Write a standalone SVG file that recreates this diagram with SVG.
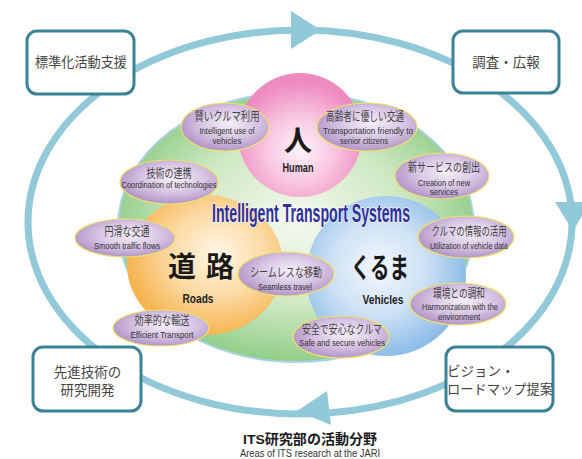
<svg xmlns="http://www.w3.org/2000/svg" width="582" height="459" viewBox="0 0 582 459">
<defs>
<radialGradient id="gGreen" cx="0.5" cy="0.48" r="0.55">
<stop offset="0" stop-color="#f4f9f0"/><stop offset="0.55" stop-color="#d0e9c4"/><stop offset="1" stop-color="#88ca80"/>
</radialGradient>
<radialGradient id="gPink" cx="0.5" cy="0.62" r="0.55">
<stop offset="0" stop-color="#fdf3f8"/><stop offset="0.5" stop-color="#f8c6df"/><stop offset="1" stop-color="#ed8ac0"/>
</radialGradient>
<radialGradient id="gOrange" cx="0.58" cy="0.42" r="0.58">
<stop offset="0" stop-color="#fff6e6"/><stop offset="0.5" stop-color="#fcdca8"/><stop offset="1" stop-color="#f5b450"/>
</radialGradient>
<radialGradient id="gBlue" cx="0.45" cy="0.45" r="0.58">
<stop offset="0" stop-color="#f3f7fc"/><stop offset="0.5" stop-color="#cfe2f5"/><stop offset="1" stop-color="#86b9e6"/>
</radialGradient>
<radialGradient id="gPurple" cx="0.55" cy="0.42" r="0.62">
<stop offset="0" stop-color="#f5eff8"/><stop offset="0.5" stop-color="#d9c6e4"/><stop offset="1" stop-color="#ac8fc3"/>
</radialGradient>
<style>
.ring{fill:none;stroke:#92c9d9;stroke-width:7}
.arrow{fill:#92c9d9}
.box{fill:#ffffff;stroke:#3c8297;stroke-width:3}
.bt{font-family:"Noto Sans CJK JP",sans-serif;font-size:13.5px;fill:#444444}
.pe{fill:url(#gPurple);stroke:#f1e06a;stroke-width:1.2}
.jp{font-family:"Noto Sans CJK JP",sans-serif;font-size:12.5px;fill:#444444;text-anchor:middle}
.en{font-family:"Liberation Sans",Arial,sans-serif;font-size:9.5px;fill:#333333;text-anchor:middle}
.big{font-family:"Noto Sans CJK JP",sans-serif;font-size:28px;font-weight:bold;fill:#1a1a1a;text-anchor:middle}
.lab{font-family:"Liberation Sans",Arial,sans-serif;font-size:13px;font-weight:bold;fill:#222222;text-anchor:middle}
</style>
</defs>
<rect width="582" height="459" fill="#ffffff"/>

<g id="connectors">
<ellipse class="ring" cx="300" cy="222" rx="272" ry="192"/>
<polygon class="arrow" points="291,11 321,30 291,49"/>
<polygon class="arrow" points="555,202 573,231 590,202"/>
<polygon class="arrow" points="327,391 297,411 331,425"/>
</g>

<g id="its-area">
<ellipse cx="296" cy="227" rx="178" ry="135" fill="url(#gGreen)" stroke="#a9d2e4" stroke-width="2"/>
</g>

<g id="human">
<circle cx="300" cy="135" r="62" fill="url(#gPink)"/>
<text class="big" x="298" y="151" font-weight="normal">人</text>
<text class="lab" x="298" y="172" font-size="12" textLength="31" lengthAdjust="spacingAndGlyphs">Human</text>
</g>

<g id="roads">
<ellipse cx="205" cy="265" rx="78" ry="70" fill="url(#gOrange)"/>
<text class="big" x="182" y="277">道</text>
<text class="big" x="220" y="277">路</text>
<text class="lab" x="198" y="303" textLength="31" lengthAdjust="spacingAndGlyphs">Roads</text>
</g>

<g id="vehicles">
<circle cx="386" cy="276" r="80" fill="url(#gBlue)"/>
<text class="big" x="380" y="278" font-size="26" font-weight="normal" textLength="58" lengthAdjust="spacingAndGlyphs">くるま</text>
<text class="lab" x="383" y="304" textLength="41" lengthAdjust="spacingAndGlyphs">Vehicles</text>
</g>

<g id="its-title">
<text x="311" y="222" font-family="Liberation Sans,Arial,sans-serif" font-size="25" font-weight="bold" fill="#30309a" stroke="#ffffff" stroke-width="1.6" paint-order="stroke" stroke-opacity="0.8" text-anchor="middle" textLength="198" lengthAdjust="spacingAndGlyphs">Intelligent Transport Systems</text>
</g>

<g id="smart-use">
<ellipse class="pe" cx="225" cy="127" rx="44" ry="24"/>
<text class="jp" x="227" y="121" textLength="65" lengthAdjust="spacingAndGlyphs">賢いクルマ利用</text>
<text class="en" x="227" y="134" textLength="55" lengthAdjust="spacingAndGlyphs">Intelligent use of</text>
<text class="en" x="227" y="144" textLength="29" lengthAdjust="spacingAndGlyphs">vehicles</text>
</g>

<g id="senior">
<ellipse class="pe" cx="367" cy="127" rx="50" ry="24"/>
<text class="jp" x="365" y="121" textLength="78" lengthAdjust="spacingAndGlyphs">高齢者に優しい交通</text>
<text class="en" x="368" y="134" textLength="90" lengthAdjust="spacingAndGlyphs">Transportation friendly to</text>
<text class="en" x="364" y="144" textLength="48" lengthAdjust="spacingAndGlyphs">senior citizens</text>
</g>

<g id="coordination">
<ellipse class="pe" cx="169" cy="182" rx="49" ry="22"/>
<text class="jp" x="169" y="178" textLength="45" lengthAdjust="spacingAndGlyphs">技術の連携</text>
<text class="en" x="169" y="188" textLength="95" lengthAdjust="spacingAndGlyphs">Coordination of technologies</text>
</g>

<g id="smooth">
<ellipse class="pe" cx="125" cy="238" rx="50" ry="19"/>
<text class="jp" x="127" y="236" textLength="45" lengthAdjust="spacingAndGlyphs">円滑な交通</text>
<text class="en" x="127" y="249" textLength="66" lengthAdjust="spacingAndGlyphs">Smooth traffic flows</text>
</g>

<g id="new-services">
<ellipse class="pe" cx="442" cy="176" rx="47" ry="23"/>
<text class="jp" x="444" y="172" textLength="72" lengthAdjust="spacingAndGlyphs">新サービスの創出</text>
<text class="en" x="444" y="186" textLength="52" lengthAdjust="spacingAndGlyphs">Creation of new</text>
<text class="en" x="444" y="195" textLength="28" lengthAdjust="spacingAndGlyphs">services</text>
</g>

<g id="vehicle-data">
<ellipse class="pe" cx="466" cy="237" rx="48" ry="21"/>
<text class="jp" x="469" y="236" textLength="75" lengthAdjust="spacingAndGlyphs">クルマの情報の活用</text>
<text class="en" x="469" y="249" textLength="78" lengthAdjust="spacingAndGlyphs">Utilization of vehicle data</text>
</g>

<g id="environment">
<ellipse class="pe" cx="458" cy="304" rx="48" ry="21"/>
<text class="jp" x="459" y="298" textLength="52" lengthAdjust="spacingAndGlyphs">環境との調和</text>
<text class="en" x="460" y="310" textLength="76" lengthAdjust="spacingAndGlyphs">Harmonization with the</text>
<text class="en" x="459" y="320" textLength="42" lengthAdjust="spacingAndGlyphs">environment</text>
</g>

<g id="efficient">
<ellipse class="pe" cx="161" cy="328" rx="48" ry="18"/>
<text class="jp" x="162" y="325" textLength="55" lengthAdjust="spacingAndGlyphs">効率的な輸送</text>
<text class="en" x="162" y="338" textLength="63" lengthAdjust="spacingAndGlyphs">Efficient Transport</text>
</g>

<g id="safe">
<ellipse class="pe" cx="341" cy="337" rx="48" ry="21"/>
<text class="jp" x="342" y="334" textLength="80" lengthAdjust="spacingAndGlyphs">安全で安心なクルマ</text>
<text class="en" x="342" y="346" textLength="86" lengthAdjust="spacingAndGlyphs">Safe and secure vehicles</text>
</g>

<g id="seamless">
<ellipse class="pe" cx="286" cy="274" rx="48" ry="22"/>
<text class="jp" x="286" y="277" textLength="72" lengthAdjust="spacingAndGlyphs">シームレスな移動</text>
<text class="en" x="285" y="290" textLength="54" lengthAdjust="spacingAndGlyphs">Seamless travel</text>
</g>

<g id="box-standard">
<rect class="box" x="27" y="31" width="107" height="63" rx="10"/>
<text class="bt" x="81" y="67" text-anchor="middle" textLength="92" lengthAdjust="spacingAndGlyphs">標準化活動支援</text>
</g>

<g id="box-survey">
<rect class="box" x="453" y="31" width="106" height="62" rx="10"/>
<text class="bt" x="506" y="67" text-anchor="middle">調査・広報</text>
</g>

<g id="box-research">
<rect class="box" x="33" y="347" width="108" height="64" rx="10"/>
<text class="bt" x="87.5" y="377" text-anchor="middle">先進技術の</text>
<text class="bt" x="87.5" y="395" text-anchor="middle">研究開発</text>
</g>

<g id="box-vision">
<rect class="box" x="446" y="347" width="107" height="64" rx="10"/>
<text class="bt" x="447" y="376">ビジョン・</text>
<text class="bt" x="447" y="394" textLength="106" lengthAdjust="spacingAndGlyphs">ロードマップ提案</text>
</g>

<g id="caption">
<text x="310" y="444" font-family="Liberation Sans,'Noto Sans CJK JP',sans-serif" font-size="13.5" font-weight="bold" fill="#1a1a1a" text-anchor="middle" textLength="134" lengthAdjust="spacingAndGlyphs">ITS研究部の活動分野</text>
<text x="310" y="457" font-family="Liberation Sans,Arial,sans-serif" font-size="10" fill="#333333" text-anchor="middle" textLength="140" lengthAdjust="spacingAndGlyphs">Areas of ITS research at the JARI</text>
</g>
</svg>
